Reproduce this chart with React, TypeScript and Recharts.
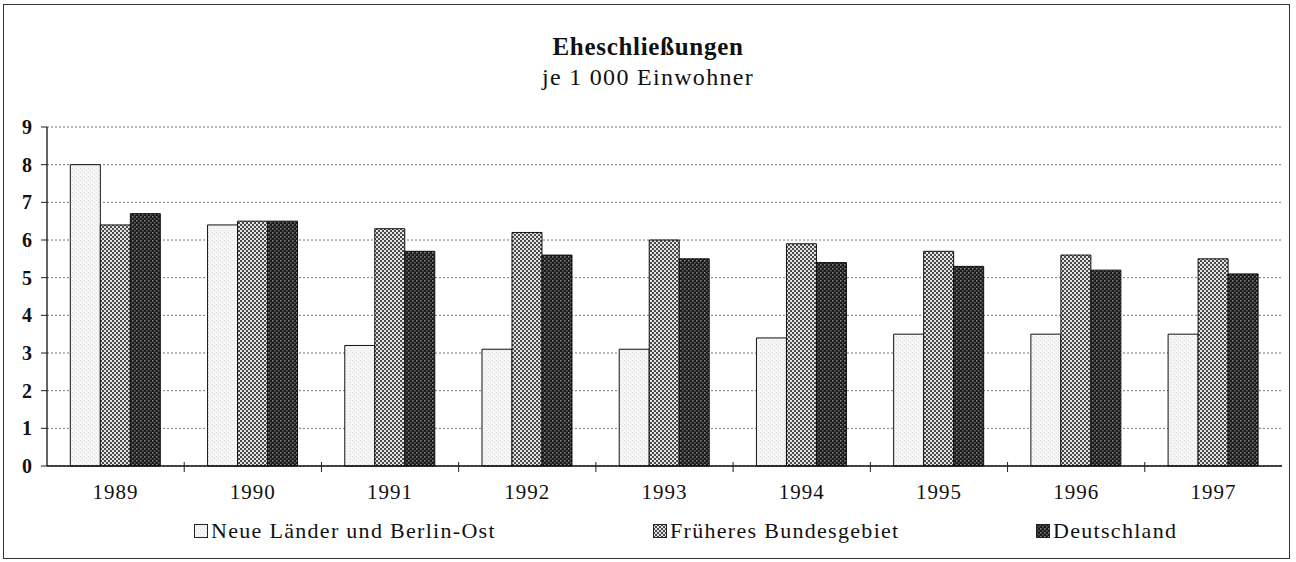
import { BarChart, Bar, XAxis, YAxis, CartesianGrid } from "recharts";

const years = ["1989", "1990", "1991", "1992", "1993", "1994", "1995", "1996", "1997"];
const neueLaender = [8.0, 6.4, 3.2, 3.1, 3.1, 3.4, 3.5, 3.5, 3.5];
const frueheresBundesgebiet = [6.4, 6.5, 6.3, 6.2, 6.0, 5.9, 5.7, 5.6, 5.5];
const deutschland = [6.7, 6.5, 5.7, 5.6, 5.5, 5.4, 5.3, 5.2, 5.1];
const yTicks = [0, 1, 2, 3, 4, 5, 6, 7, 8, 9];

const series = [
  { key: "neu", name: "Neue Länder und Berlin-Ost", fill: "url(#patLight)" },
  { key: "frueher", name: "Früheres Bundesgebiet", fill: "url(#patMid)" },
  { key: "de", name: "Deutschland", fill: "url(#patDark)" },
];

const data = years.map((year, i) => ({
  year,
  neu: neueLaender[i],
  frueher: frueheresBundesgebiet[i],
  de: deutschland[i],
}));

const font = '"Liberation Serif", "Times New Roman", serif';

function YearTick({ x, y, payload }: any) {
  const half = payload?.offset ?? 68.6;
  return (
    <g>
      {payload.index > 0 && (
        <line x1={x - half} x2={x - half} y1={y - 4} y2={y + 6} stroke="#222" />
      )}
      <text
        x={x}
        y={y + 33}
        textAnchor="middle"
        fontSize={21}
        letterSpacing={1}
        fontFamily={font}
        fill="#111"
      >
        {payload.value}
      </text>
    </g>
  );
}

function Patterns() {
  return (
    <defs>
      <pattern id="patLight" width="4" height="4" patternUnits="userSpaceOnUse">
        <rect width="4" height="4" fill="#f6f6f6" />
        <rect x="0" y="0" width="1" height="1" fill="#dcdcdc" />
        <rect x="2" y="2" width="1" height="1" fill="#dcdcdc" />
      </pattern>
      <pattern id="patMid" width="4" height="4" patternUnits="userSpaceOnUse">
        <rect width="4" height="4" fill="#e4e4e4" />
        <rect x="0" y="0" width="2" height="2" fill="#4a4a4a" />
        <rect x="2" y="2" width="2" height="2" fill="#4a4a4a" />
      </pattern>
      <pattern id="patDark" width="4" height="4" patternUnits="userSpaceOnUse">
        <rect width="4" height="4" fill="#1a1a1a" />
        <rect x="0" y="0" width="1.5" height="1.5" fill="#8a8a8a" />
        <rect x="2" y="2" width="1.5" height="1.5" fill="#6a6a6a" />
      </pattern>
    </defs>
  );
}

export default function App() {
  return (
    <div
      style={{
        position: "absolute",
        left: 0,
        top: 0,
        width: 1296,
        height: 562,
        background: "#fff",
        fontFamily: font,
        color: "#111",
      }}
    >
      <div
        style={{
          position: "absolute",
          left: 3,
          top: 4,
          width: 1287,
          height: 555,
          border: "1.5px solid #333",
          boxSizing: "border-box",
        }}
      />
      <div
        style={{
          position: "absolute",
          top: 35,
          width: 1296,
          textAlign: "center",
          fontSize: 25,
          lineHeight: "24px",
          fontWeight: "bold",
          letterSpacing: 0.7,
        }}
      >
        Eheschließungen
      </div>
      <div
        style={{
          position: "absolute",
          top: 66,
          width: 1296,
          textAlign: "center",
          fontSize: 24,
          lineHeight: "23px",
          letterSpacing: 1.3,
        }}
      >
        je 1 000 Einwohner
      </div>

      <div style={{ position: "absolute", left: 0, top: 0 }}>
        <BarChart
          width={1296}
          height={562}
          data={data}
          margin={{ top: 127, right: 14, bottom: 66, left: 17 }}
          barCategoryGap="17%"
          barGap={0}
        >
          <Patterns />
          <CartesianGrid vertical={false} stroke="#777" strokeDasharray="2 2" />
          <XAxis
            dataKey="year"
            height={30}
            tickLine={false}
            tickSize={0}
            tickMargin={0}
            axisLine={{ stroke: "#111", strokeWidth: 1.3 }}
            tick={<YearTick />}
            interval={0}
          />
          <XAxis
            xAxisId="top"
            orientation="top"
            dataKey="year"
            height={0}
            tick={false}
            tickLine={false}
            axisLine={{ stroke: "#222", strokeWidth: 1.3 }}
          />
          <YAxis
            domain={[0, 9]}
            ticks={yTicks}
            width={30}
            tickSize={6}
            tickMargin={9}
            interval={0}
            axisLine={{ stroke: "#111", strokeWidth: 1.3 }}
            tickLine={{ stroke: "#222" }}
            tick={{ fontSize: 20, fontWeight: "bold", fontFamily: font, fill: "#111" }}
          />
          <YAxis
            yAxisId="right"
            orientation="right"
            domain={[0, 9]}
            width={0}
            tick={false}
            tickLine={false}
            axisLine={{ stroke: "#222", strokeWidth: 1.3 }}
          />
          {series.map((s) => (
            <Bar
              key={s.key}
              dataKey={s.key}
              name={s.name}
              fill={s.fill}
              stroke="#111"
              strokeWidth={1}
              isAnimationActive={false}
            />
          ))}
        </BarChart>
      </div>

      {series.map((s, i) => (
        <div
          key={s.key}
          style={{
            position: "absolute",
            top: 520,
            left: [194, 653, 1036][i],
            display: "flex",
            alignItems: "center",
            fontSize: 22,
            lineHeight: "22px",
            letterSpacing: 1.3,
            whiteSpace: "nowrap",
          }}
        >
          <svg width={15} height={15} style={{ marginRight: 2 }}>
            <rect x={0.5} y={0.5} width={13} height={13} fill={s.fill} stroke="#222" />
          </svg>
          {s.name}
        </div>
      ))}
    </div>
  );
}
